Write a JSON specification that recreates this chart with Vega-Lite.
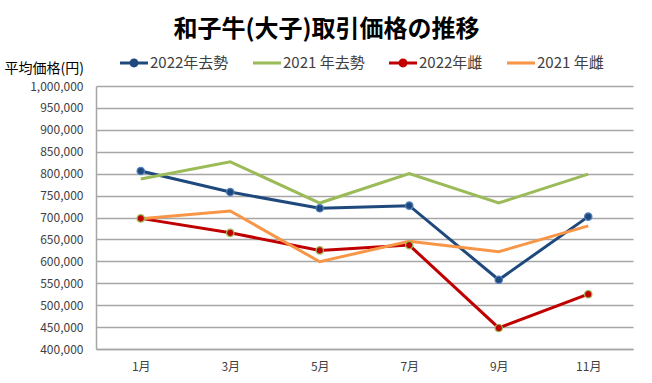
{
  "$schema": "https://vega.github.io/schema/vega-lite/v6.json",
  "width": 537,
  "height": 263,
  "autosize": {"type": "none"},
  "padding": {"left": 96, "top": 86, "right": 19, "bottom": 34},
  "background": "white",
  "config": {
    "font": "Noto Sans CJK JP",
    "view": {"stroke": null}
  },
  "title": {
    "text": "和子牛(大子)取引価格の推移",
    "fontSize": 24,
    "fontWeight": "bold",
    "color": "#000000",
    "anchor": "middle",
    "frame": "group",
    "dx": -38,
    "baseline": "alphabetic",
    "offset": -12
  },
  "data": {
    "values": [
      {"month": "1月", "series": "2022年去勢", "price": 806000},
      {"month": "3月", "series": "2022年去勢", "price": 758000},
      {"month": "5月", "series": "2022年去勢", "price": 721000},
      {"month": "7月", "series": "2022年去勢", "price": 727000},
      {"month": "9月", "series": "2022年去勢", "price": 558000},
      {"month": "11月", "series": "2022年去勢", "price": 702000},
      {"month": "1月", "series": "2021 年去勢", "price": 788000},
      {"month": "3月", "series": "2021 年去勢", "price": 827000},
      {"month": "5月", "series": "2021 年去勢", "price": 733000},
      {"month": "7月", "series": "2021 年去勢", "price": 800000},
      {"month": "9月", "series": "2021 年去勢", "price": 733000},
      {"month": "11月", "series": "2021 年去勢", "price": 799000},
      {"month": "1月", "series": "2022年雌", "price": 698000},
      {"month": "3月", "series": "2022年雌", "price": 665000},
      {"month": "5月", "series": "2022年雌", "price": 625000},
      {"month": "7月", "series": "2022年雌", "price": 637000},
      {"month": "9月", "series": "2022年雌", "price": 448000},
      {"month": "11月", "series": "2022年雌", "price": 525000},
      {"month": "1月", "series": "2021 年雌", "price": 697000},
      {"month": "3月", "series": "2021 年雌", "price": 715000},
      {"month": "5月", "series": "2021 年雌", "price": 599000},
      {"month": "7月", "series": "2021 年雌", "price": 646000},
      {"month": "9月", "series": "2021 年雌", "price": 622000},
      {"month": "11月", "series": "2021 年雌", "price": 681000}
    ]
  },
  "encoding": {
    "x": {
      "field": "month",
      "type": "nominal",
      "sort": ["1月", "3月", "5月", "7月", "9月", "11月"],
      "scale": {"padding": 0.5},
      "axis": {
        "title": null,
        "labelAngle": 0,
        "labelFontSize": 12,
        "labelColor": "#404040",
        "labelPadding": 12,
        "ticks": false,
        "domainColor": "#A6A6A6",
        "domainWidth": 1.5,
        "grid": false
      }
    },
    "y": {
      "field": "price",
      "type": "quantitative",
      "scale": {"domain": [400000, 1000000], "nice": false, "zero": false},
      "axis": {
        "values": [400000, 450000, 500000, 550000, 600000, 650000, 700000, 750000, 800000, 850000, 900000, 950000, 1000000],
        "format": ",d",
        "labelFontSize": 12,
        "labelColor": "#404040",
        "labelPadding": 13,
        "ticks": false,
        "domainColor": "#A6A6A6",
        "domainWidth": 1.5,
        "grid": true,
        "gridColor": "#A6A6A6",
        "gridWidth": 1.5,
        "title": "平均価格(円)",
        "titleAngle": 0,
        "titleAlign": "left",
        "titleBaseline": "middle",
        "titleX": -92,
        "titleY": -18,
        "titleFontSize": 14,
        "titleFontWeight": "normal",
        "titleColor": "#000000"
      }
    }
  },
  "layer": [
    {
      "mark": {"type": "line", "strokeWidth": 3},
      "encoding": {
        "color": {
          "field": "series",
          "type": "nominal",
          "scale": {
            "domain": ["2022年去勢", "2021 年去勢", "2022年雌", "2021 年雌"],
            "range": ["#1F497D", "#9BBB59", "#C00000", "#F79646"]
          },
          "legend": {
            "title": null,
            "orient": "none",
            "legendX": 24,
            "legendY": -37,
            "direction": "horizontal",
            "columns": 4,
            "columnPadding": 24,
            "labelFontSize": 15,
            "labelColor": "#404040",
            "labelOffset": 2,
            "symbolSize": 784,
            "symbolType": "M-1,-0.11L1,-0.11L1,0.11L-1,0.11Z",
            "encode": {
              "symbols": {
                "update": {
                  "shape": {"signal": "indexof(datum.value, '2022') === 0 ? 'M-1,-0.11L1,-0.11L1,0.11L-1,0.11ZM0.32,0A0.32,0.32,0,1,1,-0.32,0A0.32,0.32,0,1,1,0.32,0Z' : 'M-1,-0.11L1,-0.11L1,0.11L-1,0.11Z'"},
                  "fill": {"scale": "color", "field": "value"},
                  "strokeWidth": {"value": 0},
                  "opacity": {"value": 1}
                }
              }
            }
          }
        }
      }
    },
    {
      "transform": [{"filter": "indexof(datum.series, '2022') === 0"}],
      "mark": {"type": "point", "filled": true, "size": 55, "strokeWidth": 1.2, "opacity": 1},
      "encoding": {
        "color": {"field": "series", "type": "nominal"},
        "stroke": {
          "field": "series",
          "type": "nominal",
          "scale": {"domain": ["2022年去勢", "2022年雌"], "range": ["#4F81BD", "#9BBB59"]},
          "legend": null
        }
      }
    }
  ]
}
